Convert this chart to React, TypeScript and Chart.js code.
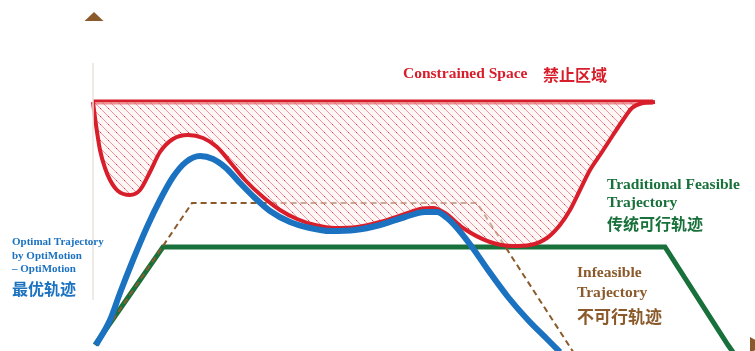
import React, { useEffect, useRef } from "react";
import { Chart, registerables } from "chart.js";

Chart.register(...registerables);

// Conceptual trajectory diagram: x = time, y = position (arbitrary units)
const optimalX = [1, 15, 25, 38, 52, 65, 78, 91, 105, 118, 131, 145, 160, 175, 195, 215, 235, 260, 285, 310, 330, 342, 352, 362, 377, 393, 413, 433, 453, 465];
const optimalY = [0, 25, 52, 85, 118, 145, 168, 183, 189, 186, 177, 162, 147, 134, 123, 117, 114, 115, 120, 128, 133, 133, 127, 117, 98, 75, 48, 25, 5, -7];

const constraintX = [-2, 1, 5, 10, 15, 23, 35, 45, 55, 65, 78, 93, 108, 122, 135, 150, 168, 185, 202, 220, 240, 262, 285, 310, 325, 338, 350, 368, 395, 418, 435, 452, 465, 475, 485, 495, 507, 518, 528, 537, 548, 560];
const constraintY = [243, 220, 195, 177, 165, 154, 150, 155, 173, 193, 206, 210, 207, 198, 183, 165, 148, 135, 126, 120, 117, 118, 123, 131, 136, 137, 132, 117, 103, 99, 100, 107, 120, 135, 155, 175, 193, 210, 225, 237, 242, 243];
const constraintTop = 243;
const constraintTopX = [-2, 558];

const traditionalX = [0, 68, 570, 633, 640];
const traditionalY = [0, 98, 98, 0, -10];

const infeasibleX = [1, 97, 382, 475, 480];
const infeasibleY = [0, 142, 142, -2, -10];

const axisX = [-2, -2];
const axisY = [282, 45];

const RED = "#d81e2a";
const BLUE = "#1b72c0";
const GREEN = "#18703a";
const BROWN = "#8b5a2b";

const pts = (xs: number[], ys: number[]) => xs.map((x, i) => ({ x, y: ys[i] }));

function makeHatch(): CanvasPattern | string {
  const c = document.createElement("canvas");
  const s = 8;
  c.width = s;
  c.height = s;
  const g = c.getContext("2d");
  if (!g) return "rgba(230,60,70,0.2)";
  g.fillStyle = "rgba(255,238,238,0.55)";
  g.fillRect(0, 0, s, s);
  g.strokeStyle = "rgba(232,70,85,0.55)";
  g.lineWidth = 1;
  g.beginPath();
  g.moveTo(-1, -1);
  g.lineTo(s + 1, s + 1);
  g.moveTo(-1, s - 1);
  g.lineTo(1, s + 1);
  g.moveTo(s - 1, -1);
  g.lineTo(s + 1, 1);
  g.stroke();
  g.fillStyle = "rgba(220,30,45,0.8)";
  g.fillRect(4, 4, 1, 1);
  const p = g.createPattern(c, "repeat");
  return p || "rgba(230,60,70,0.2)";
}

type Label = { x: number; y: number; text: string; color: string; font: string };

const SERIF = "'Liberation Serif', 'Times New Roman', serif";
const CJK = "'Noto Sans CJK SC', sans-serif";

const labels: Label[] = [
  { x: 308, y: 271, text: "Constrained Space", color: RED, font: `bold 15.5px ${SERIF}` },
  { x: 448, y: 270, text: "禁止区域", color: RED, font: `bold 16px ${CJK}` },
  { x: 512, y: 160, text: "Traditional Feasible", color: GREEN, font: `bold 15.5px ${SERIF}` },
  { x: 512, y: 142, text: "Trajectory", color: GREEN, font: `bold 15.5px ${SERIF}` },
  { x: 512, y: 121, text: "传统可行轨迹", color: GREEN, font: `bold 16px ${CJK}` },
  { x: 482, y: 72, text: "Infeasible", color: BROWN, font: `bold 15.5px ${SERIF}` },
  { x: 482, y: 52, text: "Trajectory", color: BROWN, font: `bold 15.5px ${SERIF}` },
  { x: 482, y: 28, text: "不可行轨迹", color: BROWN, font: `bold 17px ${CJK}` },
  { x: -83, y: 103, text: "Optimal Trajectory", color: BLUE, font: `bold 11px ${SERIF}` },
  { x: -83, y: 89, text: "by OptiMotion", color: BLUE, font: `bold 11px ${SERIF}` },
  { x: -83, y: 76, text: "– OptiMotion", color: BLUE, font: `bold 11px ${SERIF}` },
  { x: -83, y: 56, text: "最优轨迹", color: BLUE, font: `bold 16px ${CJK}` },
];

const decorPlugin = {
  id: "decor",
  afterDatasetsDraw(chart: any) {
    const { ctx, scales } = chart;
    const xs = scales.x;
    const ys = scales.y;
    ctx.save();
    ctx.fillStyle = BROWN;
    const ax = xs.getPixelForValue(-1);
    const apex = ys.getPixelForValue(333);
    const base = ys.getPixelForValue(324);
    ctx.beginPath();
    ctx.moveTo(ax, apex);
    ctx.lineTo(ax + 9.5, base);
    ctx.lineTo(ax - 9.5, base);
    ctx.closePath();
    ctx.fill();
    const bx = xs.getPixelForValue(655);
    const by = ys.getPixelForValue(0);
    ctx.beginPath();
    ctx.moveTo(bx, by - 8);
    ctx.lineTo(bx + 14, by);
    ctx.lineTo(bx, by + 8);
    ctx.closePath();
    ctx.fill();
    ctx.textAlign = "left";
    ctx.textBaseline = "middle";
    for (const l of labels) {
      ctx.font = l.font;
      ctx.fillStyle = l.color;
      ctx.fillText(l.text, xs.getPixelForValue(l.x), ys.getPixelForValue(l.y));
    }
    ctx.restore();
  },
};

export default function App() {
  const ref = useRef<HTMLCanvasElement | null>(null);
  useEffect(() => {
    if (!ref.current) return;
    const hatch = makeHatch();
    const chart = new Chart(ref.current, {
      type: "line",
      data: {
        datasets: [
          {
            data: pts(axisX, axisY),
            borderColor: "#ebe4de",
            borderWidth: 1.5,
            pointRadius: 0,
            fill: false,
          },
          {
            data: pts(optimalX, optimalY),
            borderColor: BLUE,
            borderWidth: 6,
            pointRadius: 0,
            cubicInterpolationMode: "monotone",
            fill: false,
          },
          {
            data: pts(constraintX, constraintY),
            borderColor: RED,
            borderWidth: 4,
            pointRadius: 0,
            cubicInterpolationMode: "monotone",
            fill: { value: constraintTop },
            backgroundColor: hatch as any,
          },
          {
            data: pts(constraintTopX, [constraintTop, constraintTop]),
            borderColor: RED,
            borderWidth: 5,
            pointRadius: 0,
            fill: false,
          },
          {
            data: pts(infeasibleX, infeasibleY),
            borderColor: BROWN,
            borderWidth: 2,
            borderDash: [6, 4],
            pointRadius: 0,
            fill: false,
          },
          {
            data: pts(traditionalX, traditionalY),
            borderColor: GREEN,
            borderWidth: 5,
            pointRadius: 0,
            fill: false,
          },
        ],
      },
      options: {
        responsive: false,
        animation: false,
        layout: { padding: 0 },
        parsing: false as any,
        plugins: { legend: { display: false }, tooltip: { enabled: false }, title: { display: false } },
        scales: {
          x: { type: "linear", min: -95, max: 660, display: false },
          y: { type: "linear", min: -6, max: 345, display: false },
        },
      },
      plugins: [decorPlugin],
    });
    return () => chart.destroy();
  }, []);
  return (
    <div style={{ position: "absolute", left: 0, top: 0, width: 755, height: 351, background: "#fff" }}>
      <canvas ref={ref} width={755} height={351} style={{ display: "block" }} />
    </div>
  );
}
